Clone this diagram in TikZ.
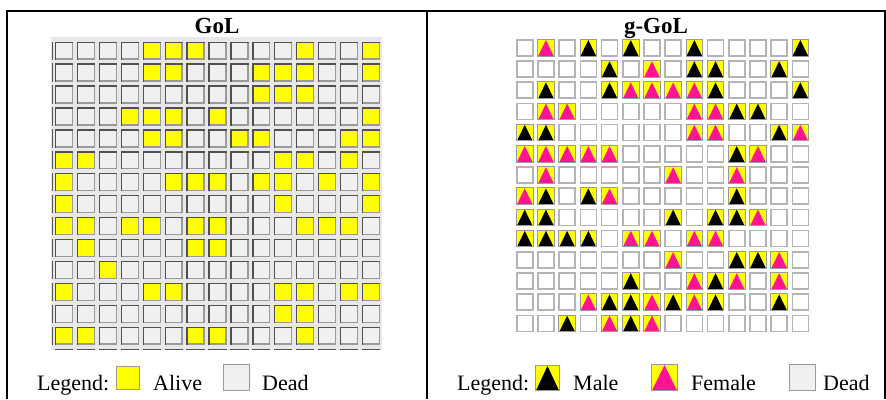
\documentclass[tikz,border=0pt]{standalone}
\usepackage{fontspec}
\setmainfont{Liberation Serif}
\definecolor{cellgray}{HTML}{F0F0F0}
\definecolor{bggray}{HTML}{E8E8E8}
\definecolor{dkb}{HTML}{505050}
\definecolor{ltb}{HTML}{9A9A9A}
\definecolor{rgb}{HTML}{B4B4B4}
\definecolor{ylw}{HTML}{FFFF00}
\definecolor{pnk}{HTML}{FF1493}
\newcommand\golcell[3]{%
  \pgfmathsetmacro\gx{55+21.9*#1}%
  \pgfmathsetmacro\gy{41.5+21.93*#2}%
  \fill[#3] (\gx,\gy) rectangle ++(18.3,18.3);
  \draw[ltb,line width=1.4pt] (\gx+17.6,\gy+0.7) -- (\gx+17.6,\gy+17.6) -- (\gx+0.7,\gy+17.6);
  \draw[dkb,line width=1.4pt] (\gx+0.7,\gy+18.3) -- (\gx+0.7,\gy+0.7) -- (\gx+18.3,\gy+0.7);
}
\newcommand\ggdead[2]{%
  \pgfmathsetmacro\hx{516+21.2*#1}%
  \pgfmathsetmacro\hy{39+21.2*#2}%
  \draw[rgb,line width=1.5pt,fill=white] (\hx+0.75,\hy+0.75) rectangle (\hx+16.75,\hy+16.75);
}
\newcommand\ggalive[3]{%
  \pgfmathsetmacro\hx{516+21.2*#1}%
  \pgfmathsetmacro\hy{39+21.2*#2}%
  \fill[ylw] (\hx,\hy) rectangle ++(17.5,17.5);
  \fill[#3] (\hx+1,\hy+17) -- (\hx+8.75,\hy+1) -- (\hx+16.5,\hy+17) -- cycle;
  \draw[ltb,line width=0.9pt] (\hx+0.45,\hy+0.45) rectangle (\hx+17.05,\hy+17.05);
}
\begin{document}
\begin{tikzpicture}[x=1pt,y=-1pt,
  lbl/.style={anchor=base west,inner sep=0pt,font=\fontsize{22}{24}\selectfont},
  ttl/.style={anchor=base,inner sep=0pt,font=\fontsize{23}{26}\selectfont\bfseries},
  frame/.style={line width=2pt,black}]
\useasboundingbox (0,0) rectangle (886,399);
\fill[white] (0,0) rectangle (886,399);
% frame
\draw[frame] (7,399) -- (7,10.5) -- (885,10.5) -- (885,399);
\draw[frame] (427.3,10.5) -- (427.3,399);
% titles
\node[ttl] (t1) at (217,33) {GoL};
\node[ttl] (t2) at (656,33) {g-GoL};
% left grid
\fill[bggray] (51,37) rectangle (382,350);
\foreach \r in {0,...,13}{\foreach \c in {0,...,14}{\golcell{\c}{\r}{cellgray}}}
\foreach \r/\cl in {0/{4,5,6,11,14},1/{4,5,9,10,11,14},2/{9,10,11},3/{3,4,5,7,14},
  4/{4,5,8,9,13,14},5/{0,1,10,11,13},6/{0,5,6,7,9,10,12,14},7/{0,10,14},
  8/{0,1,3,4,6,7,11,12,13},9/{1,6,7},10/{2},11/{0,4,5,10,11,13,14},12/{10,11},
  13/{0,1,6,7,11}}{\foreach \c in \cl {\golcell{\c}{\r}{ylw}}}
\foreach \r in {0,...,13}{\draw[dkb,line width=1.6pt] (52.5,{41.5+21.93*\r}) -- ++(0,18.3);}
\foreach \c in {0,...,14}{\draw[dkb,line width=1.4pt] ({55+21.9*\c},349.3) -- ++(18.3,0);}
% right grid
\foreach \r in {0,...,13}{\foreach \c in {0,...,13}{\ggdead{\c}{\r}}}
\foreach \r/\cl in {0/{3,5,8,13},1/{4,8,9,12},2/{1,4,9,13},3/{10,11},4/{0,1,12},5/{10},
  7/{1,3,10},8/{0,1,7,9,10},9/{0,1,2,3},10/{10,11},11/{5,9},12/{4,5,7,9,12},13/{2,5}}
  {\foreach \c in \cl {\ggalive{\c}{\r}{black}}}
\foreach \r/\cl in {0/{1},1/{6},2/{5,6,7,8},3/{1,2,8,9},4/{8,9,13},5/{0,1,2,3,4,11},
  6/{1,7,10},7/{0,4},8/{11},9/{5,6,8,9},10/{7,12},11/{8,10,12},12/{3,6,8},13/{4,6}}
  {\foreach \c in \cl {\ggalive{\c}{\r}{pnk}}}
% left legend
\node[lbl] (lg1) at (37,390) {Legend:};
\draw[ltb,line width=1pt,fill=ylw] (116.5,366.5) rectangle (139.5,389.5);
\node[lbl] (alive) at (153,390) {Alive};
\draw[ltb,line width=1pt,fill=cellgray] (223.5,364.5) rectangle (249.5,390.5);
\node[lbl] (dead1) at (262,390) {Dead};
% right legend
\node[lbl] (lg2) at (457,390) {Legend:};
\fill[ylw] (535,365) rectangle (560,391);
\fill[black] (536,390.5) -- (547.5,366) -- (559,390.5) -- cycle;
\draw[ltb,line width=1pt] (535.5,365.5) rectangle (559.5,390.5);
\node[lbl] (male) at (573,390) {Male};
\fill[ylw] (651,364) rectangle (678,391);
\fill[pnk] (652,390.5) -- (664.5,365) -- (677,390.5) -- cycle;
\draw[ltb,line width=1pt] (651.5,364.5) rectangle (677.5,390.5);
\node[lbl] (female) at (691,390) {Female};
\draw[ltb,line width=1pt,fill=cellgray] (789.5,364.5) rectangle (815.5,390.5);
\node[lbl] (dead2) at (823,390) {Dead};
\end{tikzpicture}
\end{document}
